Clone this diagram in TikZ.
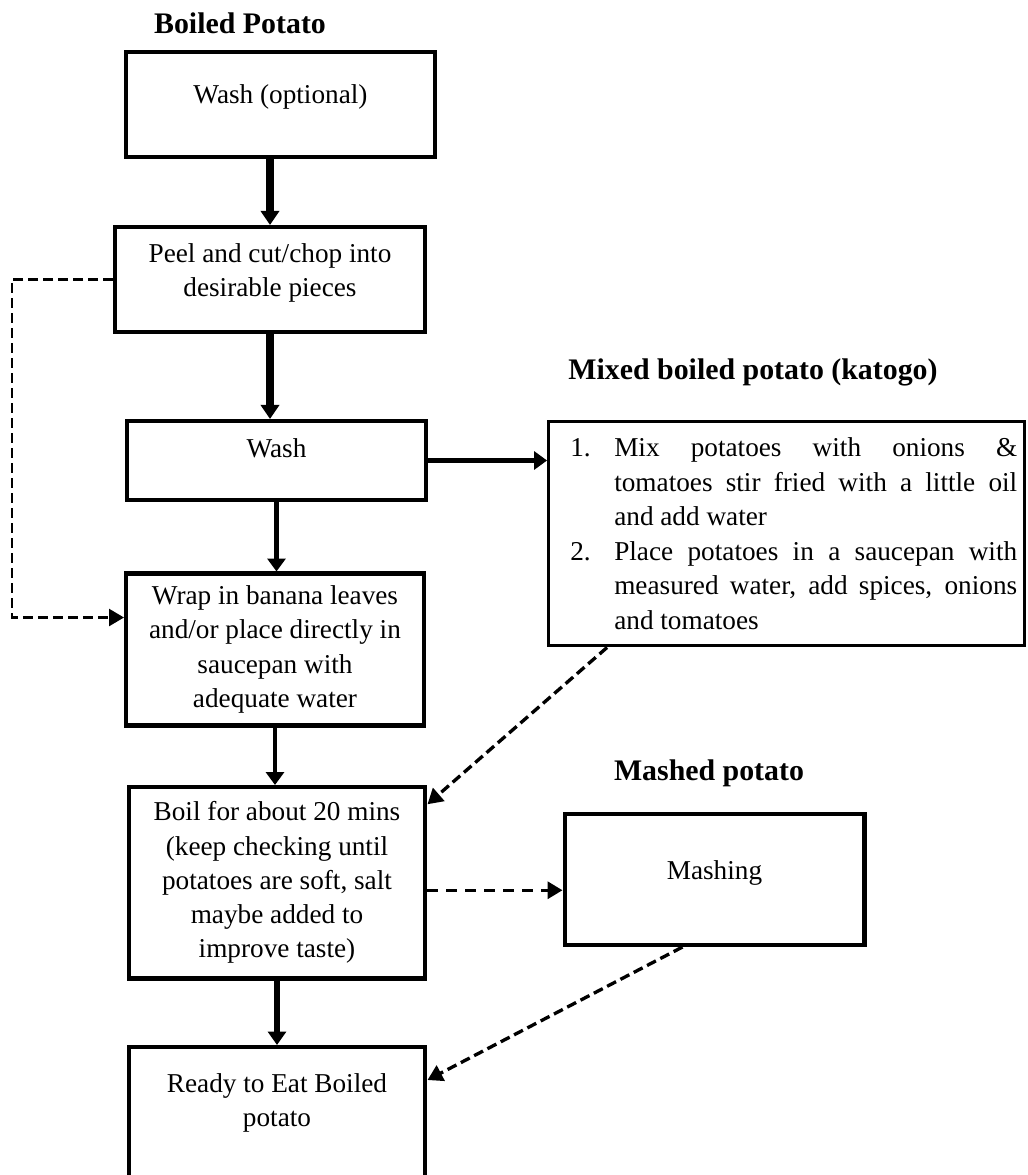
\documentclass[tikz,border=0pt]{standalone}
\usepackage{fontspec}
\setmainfont{Liberation Serif}
\usetikzlibrary{arrows.meta, positioning}

\begin{document}
\begin{tikzpicture}[
    x=0.02cm, y=-0.02cm,
    block/.style={rectangle, draw, line width=2.3pt, align=center, inner sep=0pt, font=\fontsize{15.5pt}{19.5pt}\selectfont},
    listblock/.style={rectangle, draw, line width=1.7pt, inner sep=0pt, align=justify, font=\fontsize{15.5pt}{19.6pt}\selectfont},
    heading/.style={font=\fontsize{17pt}{20pt}\selectfont\bfseries, inner sep=0pt},
    line/.style={draw, line width=2.3pt, -{Triangle[length=0.26cm, width=0.36cm]}},
    boldline/.style={draw, line width=4pt, -{Triangle[length=0.28cm, width=0.36cm]}},
    midline/.style={draw, line width=3.2pt, -{Triangle[length=0.27cm, width=0.36cm]}},
    dashline/.style={draw, line width=1.9pt, dash pattern=on 0.2cm off 0.1cm, -{Triangle[length=0.3cm, width=0.34cm]}}
]
    \useasboundingbox (0,0) rectangle (1027,1175);
    \clip (0,0) rectangle (1027,1175);

    % Headings
    \node[heading] (boiledhead) at (240,23) {Boiled Potato};
    \node[heading] (mixedhead) at (753,372) {Mixed boiled potato (katogo)};
    \node[heading] (mashedhead) at (709,773) {Mashed potato};

    % Nodes
    \node[block, minimum width=6.20cm, minimum height=2.10cm, text depth=0.40cm] (washopt) at (280.5,104.5) {Wash (optional)};
    \node[block, minimum width=6.20cm, minimum height=2.10cm, text depth=0.38cm] (peel) at (270,279.5) {Peel and cut/chop into\\desirable pieces};
    \node[block, minimum width=5.98cm, minimum height=1.58cm, text depth=0.50cm] (wash) at (276.5,460.5) {Wash};
    \node[block, minimum width=5.96cm, minimum height=3.04cm] (wrap) at (275,649.5) {Wrap in banana leaves\\and/or place directly in\\saucepan with\\adequate water};
    \node[block, minimum width=5.94cm, minimum height=3.83cm] (boil) at (277,882.75) {Boil for about 20 mins\\(keep checking until\\potatoes are soft, salt\\maybe added to\\improve taste)};
    \node[block, minimum width=5.94cm, minimum height=2.96cm, text depth=0.84cm] (ready) at (277,1121) {Ready to Eat Boiled\\potato};

    % Side boxes
    \node[listblock, minimum width=9.53cm, minimum height=4.49cm, text width=9.22cm] (mixed) at (786.75,533.75) {%
        \parindent=0pt\leftskip=0.28cm\rightskip=0pt
        \hangindent=0.88cm\hangafter=1
        \makebox[0.88cm][l]{1.}Mix potatoes with onions \&\linebreak tomatoes stir fried with a little oil\linebreak and add water\par
        \hangindent=0.88cm\hangafter=1
        \makebox[0.88cm][l]{2.}Place potatoes in a saucepan with\linebreak measured water, add spices, onions\linebreak and tomatoes\par};
    \node[block, minimum width=6.00cm, minimum height=2.62cm, text depth=0.38cm] (mash) at (714.5,879.5) {Mashing};

    % Arrows
    \path[boldline] (washopt.south -| peel.north) -- (peel.north);
    \path[boldline] (peel.south) -- (peel.south |- wash.north);
    \path[line] (wash.south) -- (wash.south |- wrap.north);
    \path[line] (wash.east) -- (wash.east -| mixed.west);
    \path[line] (wrap.south) -- (wrap.south |- boil.north);
    \path[midline] (boil.south) -- (boil.south |- ready.north);

    % Dashed routes
    \coordinate (rail) at (12,283);
    \path[dashline, line width=1.4pt] (peel.west) -- (peel.west -| rail) |- ([yshift=0.64cm]wrap.west);
    \path[dashline] ([xshift=1.2cm]mixed.south west) -- ([yshift=1.57cm]boil.east);
    \path[dashline, dash pattern=on 0.22cm off 0.16cm] ([yshift=-0.15cm]boil.east) -- ([yshift=-0.15cm]boil.east -| mash.west);
    \path[dashline] ([xshift=2.4cm]mash.south west) -- ([yshift=0.82cm]ready.east);

\end{tikzpicture}
\end{document}
